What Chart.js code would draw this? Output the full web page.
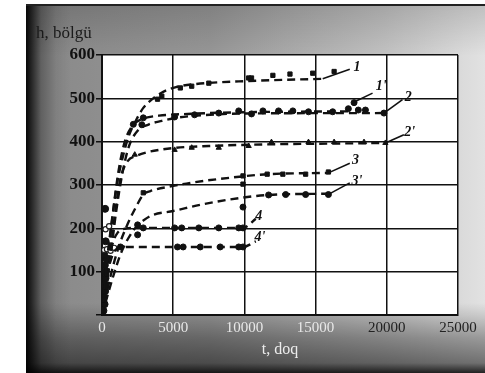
<!DOCTYPE html>
<html>
<head>
<meta charset="utf-8">
<script src="https://cdn.jsdelivr.net/npm/chart.js@4.4.1/dist/chart.umd.min.js"></script>
<style>
  html, body { margin: 0; padding: 0; background: #fff; }
  #wrap { position: relative; width: 485px; height: 373px; overflow: hidden; }
  #photo {
    position: absolute; left: 26px; top: 4px; right: 0; bottom: 0;
    border-top: 2px solid #222;
    background:
      linear-gradient(to right, rgba(0,0,0,0.95) 0px, rgba(0,0,0,0.7) 6px, rgba(0,0,0,0.3) 15px, rgba(0,0,0,0.08) 30px, rgba(0,0,0,0) 45px),
      linear-gradient(to top, rgba(0,0,0,0.85) 0px, rgba(0,0,0,0.5) 10px, rgba(0,0,0,0.32) 35px, rgba(0,0,0,0.1) 58px, rgba(0,0,0,0) 70px),
      linear-gradient(to bottom, rgba(0,0,0,0.15) 0px, rgba(0,0,0,0) 50px),
      linear-gradient(to right, #888 0%, #979797 40%, #c2c2c2 78%, #e2e2e2 100%);
  }
  #chart { position: absolute; left: 0; top: 0; }
</style>
</head>
<body>
<div id="wrap">
  <div id="photo"></div>
  <canvas id="chart" width="485" height="373"></canvas>
</div>
<script>
// axis ticks
const xTicks = [0, 5000, 10000, 15000, 20000, 25000];
const yTicks = [0, 100, 200, 300, 400, 500, 600];
const yTitle = "h, bölgü";
const xTitle = "t, doq";

// dashed curves, t (doq) and h (bölgü)
const t1 = [0, 300, 700, 1100, 1500, 1900, 2400, 2900, 3600, 4300, 5200, 6600, 10300, 15500];
const h1 = [0, 110, 220, 310, 370, 415, 450, 478, 500, 515, 526, 533, 540, 545];
const t1p = [0, 350, 750, 1150, 1600, 2100, 2800, 4000, 6000, 10000, 17400];
const h1p = [0, 110, 230, 330, 400, 435, 452, 460, 464, 468, 470];
const t2 = [0, 500, 1000, 1450, 1900, 2500, 3300, 4200, 5200, 7000, 10000, 19800];
const h2 = [0, 110, 240, 330, 390, 425, 440, 448, 455, 461, 465, 466];
const t2p = [0, 500, 900, 1300, 1800, 2400, 3100, 4000, 5200, 7500, 10500, 19900];
const h2p = [0, 120, 230, 315, 355, 367, 375, 381, 386, 390, 393, 397];
const t3 = [0, 600, 1200, 1800, 2400, 2900, 3400, 5000, 6400, 9900, 11700, 15900];
const h3 = [0, 90, 160, 210, 250, 278, 286, 298, 306, 320, 325, 328];
const t3p = [0, 700, 1300, 1900, 2500, 2900, 3500, 5000, 7000, 9900, 11700, 16000];
const h3p = [0, 80, 140, 180, 207, 218, 230, 240, 255, 271, 277, 280];
const t4 = [0, 300, 700, 1100, 1600, 2500, 9900, 10800];
const h4 = [0, 90, 160, 190, 199, 201, 201, 222];
const t4p = [0, 300, 700, 1100, 1600, 9900, 10800];
const h4p = [0, 80, 135, 154, 157, 157, 170];

// measured points
const m1T = [3900, 4200, 5500, 6300, 7500, 10300, 10500, 12000, 13200, 14800, 16300];
const m1H = [498, 505, 524, 528, 535, 547, 547, 553, 556, 558, 562];
const m1pT = [2200, 2900, 6500, 9600, 11300, 13400, 17300, 17700];
const m1pH = [440, 455, 462, 471, 471, 471, 476, 490];
const m2T = [2800, 5100, 8200, 10500, 12400, 14500, 16200, 18000, 18500, 19800];
const m2H = [439, 457, 466, 464, 471, 469, 469, 473, 473, 466];
const m2pT = [2300, 5100, 6300, 8200, 10300, 11900, 14500, 16300, 18400, 19900];
const m2pH = [370, 381, 386, 386, 390, 399, 399, 399, 399, 397];
const m3T = [2900, 9900, 9900, 11600, 12700, 14300, 15900];
const m3H = [282, 321, 302, 325, 325, 325, 330];
const m3pT = [2500, 9900, 11700, 12900, 14300, 15900];
const m3pH = [208, 249, 277, 278, 278, 278];
const m4T = [2500, 2900, 5100, 5600, 6800, 8200, 9600, 9900];
const m4H = [185, 201, 201, 201, 201, 201, 201, 201];
const m4pT = [1300, 5300, 5700, 6900, 8300, 9600, 9900];
const m4pH = [157, 157, 157, 157, 157, 157, 157];
const openT = [150, 350, 600, 850, 250, 500];
const openH = [150, 152, 148, 155, 198, 205];
const blobT = [100, 180, 120, 220, 160, 250, 130, 200, 300, 150, 260, 220];
const blobH = [10, 25, 40, 55, 70, 85, 100, 115, 130, 140, 170, 245];

// curve labels and leader lines
const labelText = ["1", "1'", "2", "2'", "3", "3'", "4", "4'"];
const labelT = [17900, 19600, 21500, 21600, 17800, 17900, 11000, 11100];
const labelH = [572, 527, 503, 422, 357, 308, 228, 178];
const leadFromT = [15500, 17600, 19800, 19900, 15900, 16000];
const leadFromH = [545, 490, 466, 397, 328, 280];
const leadToT = [17400, 19000, 21100, 21200, 17400, 17400];
const leadToH = [567, 512, 497, 416, 350, 305];

const pts = (ts, hs) => ts.map((t, i) => ({ x: t, y: hs[i] }));

const curves = [[t1, h1], [t1p, h1p], [t2, h2], [t2p, h2p], [t3, h3], [t3p, h3p], [t4, h4], [t4p, h4p]];
const markers = [
  [m1T, m1H, "rect"], [m1pT, m1pH, "circle"], [m2T, m2H, "circle"], [m2pT, m2pH, "triangle"],
  [m3T, m3H, "rect"], [m3pT, m3pH, "circle"], [m4T, m4H, "circle"], [m4pT, m4pH, "circle"],
];

const datasets = [];
curves.forEach(([ts, hs], i) => {
  datasets.push({
    label: labelText[i],
    data: pts(ts, hs),
    showLine: true,
    borderColor: "#111",
    borderWidth: 2.4,
    borderDash: [8, 5],
    pointRadius: 0,
    cubicInterpolationMode: "monotone",
    fill: false,
  });
});
leadFromT.forEach((t, i) => {
  datasets.push({
    data: [{ x: t, y: leadFromH[i] }, { x: leadToT[i], y: leadToH[i] }],
    showLine: true,
    borderColor: "#111",
    borderWidth: 1.6,
    pointRadius: 0,
  });
});
markers.forEach(([ts, hs, style]) => {
  datasets.push({
    data: pts(ts, hs),
    showLine: false,
    pointStyle: style,
    pointRadius: 3,
    backgroundColor: "#111",
    borderColor: "#111",
  });
});
datasets.push({
  data: pts(openT, openH),
  showLine: false,
  pointRadius: 2.6,
  borderWidth: 1.2,
  backgroundColor: "#fff",
  borderColor: "#222",
});
datasets.push({
  data: pts(blobT, blobH),
  showLine: false,
  pointRadius: 3.5,
  backgroundColor: "#111",
  borderColor: "#111",
});

const plotBackground = {
  id: "plotBackground",
  beforeDraw(chart) {
    const { ctx, chartArea: a } = chart;
    ctx.save();
    ctx.fillStyle = "#fff";
    ctx.fillRect(a.left, a.top, a.right - a.left, a.bottom - a.top);
    ctx.restore();
  },
};

const curveLabels = {
  id: "curveLabels",
  afterDatasetsDraw(chart) {
    const { ctx, scales } = chart;
    ctx.save();
    ctx.fillStyle = "#111";
    ctx.font = "italic bold 14px 'Liberation Serif'";
    ctx.textAlign = "center";
    ctx.textBaseline = "middle";
    labelText.forEach((txt, i) => {
      ctx.fillText(txt, scales.x.getPixelForValue(labelT[i]), scales.y.getPixelForValue(labelH[i]));
    });
    // y axis name, above the 600 tick
    ctx.fillStyle = "#1a1a1a";
    ctx.font = "17px 'Liberation Serif'";
    ctx.textAlign = "left";
    ctx.fillText(yTitle, 36, 34);
    ctx.restore();
  },
};

new Chart(document.getElementById("chart").getContext("2d"), {
  type: "scatter",
  data: { datasets },
  options: {
    responsive: false,
    animation: false,
    layout: { padding: { left: 35, right: 27, top: 55, bottom: 0 } },
    plugins: {
      legend: { display: false },
      tooltip: { enabled: false },
    },
    scales: {
      x: {
        type: "linear",
        min: 0,
        max: 25000,
        afterBuildTicks: (s) => { s.ticks = xTicks.map((v) => ({ value: v })); },
        afterFit: (s) => { s.height = 58; },
        grid: { color: "#111", lineWidth: 1.5, drawTicks: false },
        border: { color: "#111", width: 2 },
        ticks: {
          padding: 4,
          color: (c) => (c.index >= 4 ? "#222" : "#e8e8e8"),
          font: { family: "'Liberation Serif'", size: 15 },
          callback: (v) => String(v),
        },
        title: {
          display: true,
          text: xTitle,
          color: "#ececec",
          font: { family: "'Liberation Serif'", size: 16 },
          padding: { top: 0, bottom: 14 },
        },
      },
      y: {
        type: "linear",
        min: 0,
        max: 600,
        afterBuildTicks: (s) => { s.ticks = yTicks.map((v) => ({ value: v })); },
        afterFit: (s) => { s.width = 67; },
        grid: { color: "#111", lineWidth: 1.5, tickLength: 6 },
        border: { color: "#111", width: 2 },
        ticks: {
          padding: 1,
          color: "#111",
          font: { family: "'Liberation Serif'", size: 17, weight: "bold" },
          callback: (v) => (v === 0 ? "" : String(v)),
        },
      },
    },
  },
  plugins: [plotBackground, curveLabels],
});
</script>
</body>
</html>
